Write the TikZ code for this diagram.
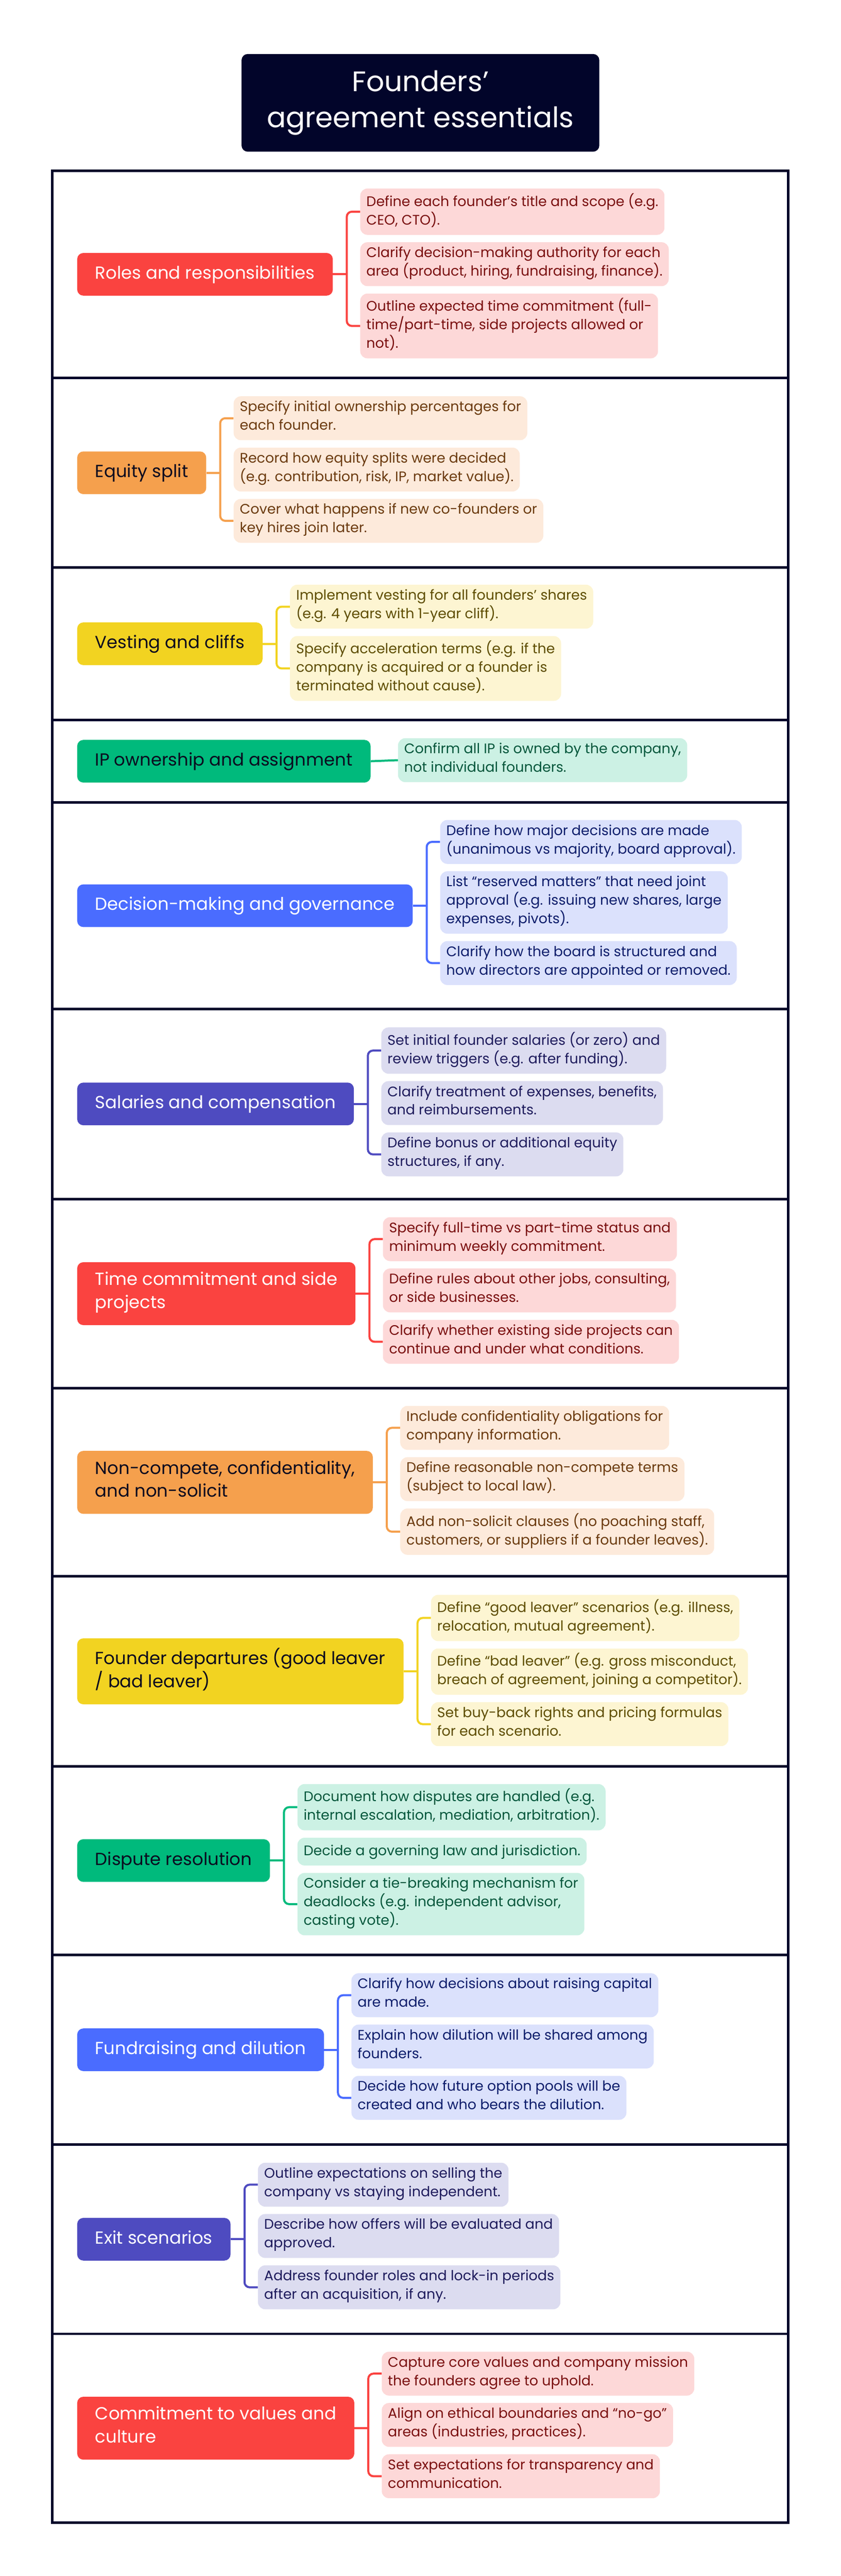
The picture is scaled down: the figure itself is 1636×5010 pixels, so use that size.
\documentclass[tikz,border=0pt]{standalone}
\usepackage{fontspec}
\setmainfont{Poppins}
\usetikzlibrary{calc}
\definecolor{navy}{HTML}{02052A}
\definecolor{redM}{HTML}{FA4340}\definecolor{redL}{HTML}{FDD8D8}\definecolor{redT}{HTML}{7A0F0F}
\definecolor{orM}{HTML}{F5A04D}\definecolor{orL}{HTML}{FDEADB}\definecolor{orT}{HTML}{6B3A0E}
\definecolor{yeM}{HTML}{F2D321}\definecolor{yeL}{HTML}{FDF5D2}\definecolor{yeT}{HTML}{5E4D00}
\definecolor{grM}{HTML}{00BA7C}\definecolor{grL}{HTML}{CCF1E4}\definecolor{grT}{HTML}{05573C}
\definecolor{blM}{HTML}{4A6CFF}\definecolor{blL}{HTML}{DBE1FC}\definecolor{blT}{HTML}{0D1D6B}
\definecolor{inM}{HTML}{4E4BC0}\definecolor{inL}{HTML}{DCDCF0}\definecolor{inT}{HTML}{1E1B5C}
\definecolor{darkT}{HTML}{0B0B1F}
\tikzset{
  main/.style n args={2}{fill=#1, text=#2, rounded corners=12pt, align=left, anchor=west,
    inner xsep=35pt, inner ysep=19pt, font=\fontsize{34}{45}\selectfont,
    execute at begin node=\strut, execute at end node=\strut},
  child/.style n args={2}{fill=#1, text=#2, rounded corners=14pt, align=left, anchor=north west,
    inner xsep=12pt, inner ysep=9pt, font=\fontsize{27}{36}\selectfont,
    execute at begin node=\strut, execute at end node=\strut},
  conn/.style={draw=#1, line width=4pt, rounded corners=10pt},
  frame/.style={draw=navy, line width=5pt}
}
\newcommand\mainnode[5]{\node[main={#3}{#4}] (#1) at (150,#2) {#5};
  \path (#1.east) ++(53,0) coordinate (#1x);}
\newcommand\firstchild[6]{\node[child={#4}{#5}] (#1) at (#2x |- 0,#3) {#6};}
\newcommand\nextchild[5]{\node[child={#3}{#4}] (#1) at ([yshift=-14pt]#2.south west) {#5};}
\newcommand\bracket[4]{% main, first, last, colour
  \draw[conn=#4] (#1.east) -- ([xshift=27pt]#1.east);
  \draw[conn=#4] (#2.west) -| ([xshift=27pt]#1.east) |- (#3.west);}
\begin{document}
\begin{tikzpicture}[x=1pt,y=-1pt]
\useasboundingbox (0,0) rectangle (1636,5010);
% title
\node[fill=navy, text=white, rounded corners=12pt, minimum width=696pt, minimum height=190pt,
  align=center, font=\fontsize{55}{70}\selectfont] (title) at (818,200) {Founders’\\agreement essentials};
% frame
\draw[frame] (102,332) rectangle (1534,4906);
\foreach \yy in {735,1104,1400,1561,1962,2332,2700,3066,3435,3802,4171,4539}
  \draw[frame] (102,\yy) -- (1534,\yy);

% 1 Roles
\mainnode{m1}{533.5}{redM}{white}{Roles and responsibilities}
\firstchild{c1a}{m1}{366.5}{redL}{redT}{Define each founder’s title and scope (e.g.\\CEO, CTO).}
\nextchild{c1b}{c1a}{redL}{redT}{Clarify decision-making authority for each\\area (product, hiring, fundraising, finance).}
\nextchild{c1c}{c1b}{redL}{redT}{Outline expected time commitment (full-\\time/part-time, side projects allowed or\\not).}
\bracket{m1}{c1a}{c1c}{redM}

% 2 Equity
\mainnode{m2}{919.5}{orM}{darkT}{Equity split}
\firstchild{c2a}{m2}{770.5}{orL}{orT}{Specify initial ownership percentages for\\each founder.}
\nextchild{c2b}{c2a}{orL}{orT}{Record how equity splits were decided\\(e.g. contribution, risk, IP, market value).}
\nextchild{c2c}{c2b}{orL}{orT}{Cover what happens if new co-founders or\\key hires join later.}
\bracket{m2}{c2a}{c2c}{orM}

% 3 Vesting
\mainnode{m3}{1252}{yeM}{darkT}{Vesting and cliffs}
\firstchild{c3a}{m3}{1137}{yeL}{yeT}{Implement vesting for all founders’ shares\\(e.g. 4 years with 1-year cliff).}
\nextchild{c3b}{c3a}{yeL}{yeT}{Specify acceleration terms (e.g. if the\\company is acquired or a founder is\\terminated without cause).}
\bracket{m3}{c3a}{c3b}{yeM}

% 4 IP
\mainnode{m4}{1480.5}{grM}{darkT}{IP ownership and assignment}
\firstchild{c4a}{m4}{1435.5}{grL}{grT}{Confirm all IP is owned by the company,\\not individual founders.}
\draw[conn=grM] (m4.east) -- (c4a.west);

% 5 Decision
\mainnode{m5}{1761.5}{blM}{white}{Decision-making and governance}
\firstchild{c5a}{m5}{1594.5}{blL}{blT}{Define how major decisions are made\\(unanimous vs majority, board approval).}
\nextchild{c5b}{c5a}{blL}{blT}{List “reserved matters” that need joint\\approval (e.g. issuing new shares, large\\expenses, pivots).}
\nextchild{c5c}{c5b}{blL}{blT}{Clarify how the board is structured and\\how directors are appointed or removed.}
\bracket{m5}{c5a}{c5c}{blM}

% 6 Salaries
\mainnode{m6}{2147}{inM}{white}{Salaries and compensation}
\firstchild{c6a}{m6}{1998}{inL}{inT}{Set initial founder salaries (or zero) and\\review triggers (e.g. after funding).}
\nextchild{c6b}{c6a}{inL}{inT}{Clarify treatment of expenses, benefits,\\and reimbursements.}
\nextchild{c6c}{c6b}{inL}{inT}{Define bonus or additional equity\\structures, if any.}
\bracket{m6}{c6a}{c6c}{inM}

% 7 Time
\mainnode{m7}{2516}{redM}{white}{Time commitment and side\\projects}
\firstchild{c7a}{m7}{2367}{redL}{redT}{Specify full-time vs part-time status and\\minimum weekly commitment.}
\nextchild{c7b}{c7a}{redL}{redT}{Define rules about other jobs, consulting,\\or side businesses.}
\nextchild{c7c}{c7b}{redL}{redT}{Clarify whether existing side projects can\\continue and under what conditions.}
\bracket{m7}{c7a}{c7c}{redM}

% 8 Non-compete
\mainnode{m8}{2883}{orM}{darkT}{Non-compete, confidentiality,\\and non-solicit}
\firstchild{c8a}{m8}{2734}{orL}{orT}{Include confidentiality obligations for\\company information.}
\nextchild{c8b}{c8a}{orL}{orT}{Define reasonable non-compete terms\\(subject to local law).}
\nextchild{c8c}{c8b}{orL}{orT}{Add non-solicit clauses (no poaching staff,\\customers, or suppliers if a founder leaves).}
\bracket{m8}{c8a}{c8c}{orM}

% 9 Founder departures
\mainnode{m9}{3250.5}{yeM}{darkT}{Founder departures (good leaver\\/ bad leaver)}
\firstchild{c9a}{m9}{3101.5}{yeL}{yeT}{Define “good leaver” scenarios (e.g. illness,\\relocation, mutual agreement).}
\nextchild{c9b}{c9a}{yeL}{yeT}{Define “bad leaver” (e.g. gross misconduct,\\breach of agreement, joining a competitor).}
\nextchild{c9c}{c9b}{yeL}{yeT}{Set buy-back rights and pricing formulas\\for each scenario.}
\bracket{m9}{c9a}{c9c}{yeM}

% 10 Dispute
\mainnode{m10}{3618.5}{grM}{darkT}{Dispute resolution}
\firstchild{c10a}{m10}{3469.5}{grL}{grT}{Document how disputes are handled (e.g.\\internal escalation, mediation, arbitration).}
\nextchild{c10b}{c10a}{grL}{grT}{Decide a governing law and jurisdiction.}
\nextchild{c10c}{c10b}{grL}{grT}{Consider a tie-breaking mechanism for\\deadlocks (e.g. independent advisor,\\casting vote).}
\bracket{m10}{c10a}{c10c}{grM}

% 11 Fundraising
\mainnode{m11}{3986.5}{blM}{white}{Fundraising and dilution}
\firstchild{c11a}{m11}{3837.5}{blL}{blT}{Clarify how decisions about raising capital\\are made.}
\nextchild{c11b}{c11a}{blL}{blT}{Explain how dilution will be shared among\\founders.}
\nextchild{c11c}{c11b}{blL}{blT}{Decide how future option pools will be\\created and who bears the dilution.}
\bracket{m11}{c11a}{c11c}{blM}

% 12 Exit
\mainnode{m12}{4355}{inM}{white}{Exit scenarios}
\firstchild{c12a}{m12}{4206}{inL}{inT}{Outline expectations on selling the\\company vs staying independent.}
\nextchild{c12b}{c12a}{inL}{inT}{Describe how offers will be evaluated and\\approved.}
\nextchild{c12c}{c12b}{inL}{inT}{Address founder roles and lock-in periods\\after an acquisition, if any.}
\bracket{m12}{c12a}{c12c}{inM}

% 13 Commitment
\mainnode{m13}{4722.5}{redM}{white}{Commitment to values and\\culture}
\firstchild{c13a}{m13}{4573.5}{redL}{redT}{Capture core values and company mission\\the founders agree to uphold.}
\nextchild{c13b}{c13a}{redL}{redT}{Align on ethical boundaries and “no-go”\\areas (industries, practices).}
\nextchild{c13c}{c13b}{redL}{redT}{Set expectations for transparency and\\communication.}
\bracket{m13}{c13a}{c13c}{redM}
\end{tikzpicture}
\end{document}
